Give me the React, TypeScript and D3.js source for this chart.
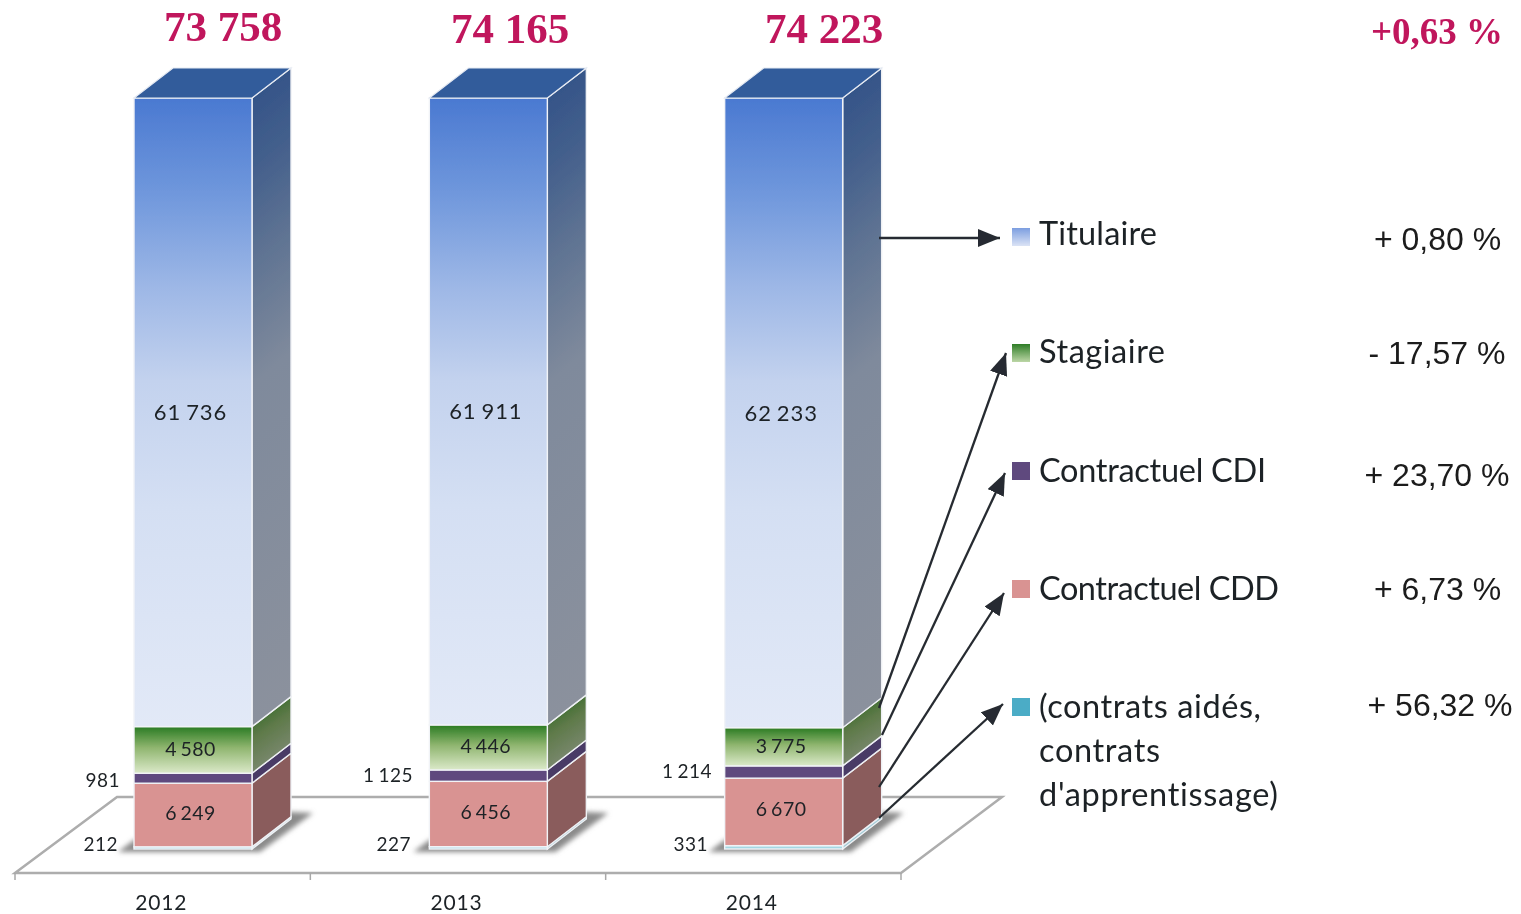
import React from "react";
import * as d3 from "d3";

const years = ["2012", "2013", "2014"];
const seriesKeys = ["aides", "cdd", "cdi", "stagiaire", "titulaire"];
const aides = [212, 227, 331];
const cdd = [6249, 6456, 6670];
const cdi = [981, 1125, 1214];
const stagiaire = [4580, 4446, 3775];
const titulaire = [61736, 61911, 62233];
const totals = ["73 758", "74 165", "74 223"];
const legendLabels = ["Titulaire", "Stagiaire", "Contractuel CDI", "Contractuel CDD"];
const legendLastLines = ["(contrats aidés,", "contrats", "d'apprentissage)"];
const changes = ["+ 0,80 %", "- 17,57 %", "+ 23,70 %", "+ 6,73 %", "+ 56,32 %"];
const totalChange = "+0,63 %";

const columns: Record<string, number[]> = { aides, cdd, cdi, stagiaire, titulaire };
const rows = years.map((y, i) => {
  const r: Record<string, number | string> = { year: y };
  seriesKeys.forEach((k) => (r[k] = columns[k][i]));
  return r;
});

const fmt = (v: number) => {
  const s = String(v);
  return s.length > 3 ? s.slice(0, -3) + " " + s.slice(-3) : s;
};

const W = 1521, H = 914;
const DX = 39, DY = -30;
const BW = 118;
const x = d3.scaleBand<string>().domain(years).range([15, 901]).paddingInner(0).paddingOuter(0);
const barX = (yr: string) => (x(yr) as number) + 119;
const y = d3.scaleLinear().domain([0, 1]).range([849, 98]);
const stack = d3.stack<any>().keys(seriesKeys).offset(d3.stackOffsetExpand);
const stacked = stack(rows as any);

const frontStops: Record<string, [number, string][]> = {
  titulaire: [[0, "#4a79d1"], [0.15, "#6f97dc"], [0.3, "#9db7e6"], [0.45, "#c3d2ee"], [0.65, "#d4dff3"], [1, "#e2e9f7"]],
  stagiaire: [[0, "#2a7b22"], [0.45, "#8fb56f"], [1, "#dbe9c9"]],
  cdi: [[0, "#5f4a7e"], [1, "#5f4a7e"]],
  cdd: [[0, "#d99392"], [1, "#d99392"]],
  aides: [[0, "#a5d8e3"], [1, "#a5d8e3"]],
};
const sideStops: Record<string, [number, string][]> = {
  titulaire: [[0, "#2f5087"], [0.15, "#435f8c"], [0.3, "#607493"], [0.48, "#7f8a9c"], [1, "#8b919d"]],
  stagiaire: [[0, "#1f6116"], [0.5, "#5f7a4a"], [1, "#7f8b76"]],
  cdi: [[0, "#4a3a66"], [1, "#4a3a66"]],
  cdd: [[0, "#8a5c5b"], [1, "#8a5c5b"]],
  aides: [[0, "#9fcbd6"], [1, "#9fcbd6"]],
};
const legendSwatch = ["url(#lg-tit)", "url(#lg-sta)", "#5f4a7e", "#d99392", "#4bacc6"];
const swatchY = [228, 344, 462, 580, 698];
const legendBase = [245, 363, 482, 600];
const legendWidths = [118, 126, 227, 240];
const lastLineWidths = [222, 121, 239];
const changeX = [1437.5, 1437, 1437, 1437.5, 1440];
const changeY = [250, 364, 486, 600, 716];
const totalX = [223, 510, 824];
const totalY = [41, 43, 43];
const outerCdiY = [787, 782, 778];
const outerLabelRight = [
  { cdi: 120, aides: 118 },
  { cdi: 413, aides: 411 },
  { cdi: 712, aides: 708 },
];
const arrows: [number, number, number, number][] = [
  [879, 238, 1000, 238],
  [879, 708, 1006, 353],
  [882, 735, 1005, 473],
  [879, 787, 1004, 593],
  [879, 818, 1003, 704],
];

const floorPts = "15,873 901,873 1002,797 117,797";
const LATO = "Lato, 'Open Sans', sans-serif";
const noLig = { fontVariantLigatures: "none" } as React.CSSProperties;

export default function App() {
  return (
    <svg
      width={W}
      height={H}
      viewBox={`0 0 ${W} ${H}`}
      style={{ position: "absolute", left: 0, top: 0, background: "#fff" }}
    >
      <defs>
        {seriesKeys.map((k) => (
          <React.Fragment key={k}>
            <linearGradient id={`front-${k}`} x1="0" y1="0" x2="0" y2="1">
              {frontStops[k].map(([o, c]) => <stop key={o} offset={o} stopColor={c} />)}
            </linearGradient>
            <linearGradient id={`side-${k}`} x1="0" y1="0" x2={k === "stagiaire" ? "0.35" : "0.05"} y2="1">
              {sideStops[k].map(([o, c]) => <stop key={o} offset={o} stopColor={c} />)}
            </linearGradient>
          </React.Fragment>
        ))}
        <linearGradient id="lg-tit" x1="0" y1="0" x2="0" y2="1">
          <stop offset="0" stopColor="#7c9ee0" />
          <stop offset="1" stopColor="#dbe3f5" />
        </linearGradient>
        <linearGradient id="lg-sta" x1="0" y1="0" x2="0" y2="1">
          <stop offset="0" stopColor="#2f7d27" />
          <stop offset="1" stopColor="#bcd6a6" />
        </linearGradient>
        <filter id="soft" x="-20%" y="-20%" width="140%" height="140%">
          <feGaussianBlur stdDeviation="2.5" />
        </filter>
        <filter id="tiny" x="-5%" y="-5%" width="110%" height="110%">
          <feGaussianBlur stdDeviation="0.45" />
        </filter>
        <marker id="arrow" markerUnits="userSpaceOnUse" markerWidth="24" markerHeight="20" refX="22" refY="9" orient="auto">
          <path d="M0,0 L22,9 L0,18 Z" fill="#262c30" />
        </marker>
      </defs>

      <g filter="url(#tiny)">
        <polygon points={floorPts} fill="#fff" stroke="#adadad" strokeWidth={2.5} />
        {x.domain().map((yr) => (
          <line key={yr} x1={x(yr)} x2={x(yr)} y1={873} y2={880} stroke="#a8a8a8" strokeWidth={1.5} />
        ))}
        <line x1={901} x2={901} y1={873} y2={880} stroke="#a8a8a8" strokeWidth={1.5} />

        {years.map((yr) => {
          const bx = barX(yr);
          return (
            <polygon
              key={yr}
              points={`${bx - 16},852 ${bx},840 ${bx + BW + DX},812 ${bx + BW + DX + 22},813 ${bx + BW + 8},852`}
              fill="#8a8a8a"
              filter="url(#soft)"
            />
          );
        })}

        {stacked.map((s) =>
          s.map((d, i) => {
            const yr = years[i];
            const bx = barX(yr);
            const y0 = y(d[0]);
            const y1 = y(d[1]);
            const k = s.key;
            return (
              <g key={`${k}-${yr}`}>
                <polygon
                  points={`${bx + BW},${y1} ${bx + BW + DX},${y1 + DY} ${bx + BW + DX},${y0 + DY} ${bx + BW},${y0}`}
                  fill={`url(#side-${k})`}
                  stroke="#eef0f4"
                  strokeWidth={1.4}
                />
                <rect
                  x={bx}
                  y={y1}
                  width={BW}
                  height={y0 - y1}
                  fill={`url(#front-${k})`}
                  stroke="#f1f3f7"
                  strokeWidth={1.4}
                />
              </g>
            );
          })
        )}
        {years.map((yr) => {
          const bx = barX(yr);
          const t = y(1);
          return (
            <polygon
              key={yr}
              points={`${bx},${t} ${bx + DX},${t + DY} ${bx + BW + DX},${t + DY} ${bx + BW},${t}`}
              fill="#335c9b"
              stroke="#e6ebf3"
              strokeWidth={1.2}
            />
          );
        })}

        {stacked
          .filter((s) => ["cdd", "stagiaire", "titulaire"].includes(s.key))
          .map((s) =>
            s.map((d, i) => {
              const big = s.key === "titulaire";
              return (
                <text
                  key={`${s.key}-${i}`}
                  x={barX(years[i]) + BW / 2 - 2.5}
                  y={(y(d[0]) + y(d[1])) / 2 + (s.key === "cdd" ? 4.5 : big ? 8 : 6)}
                  textAnchor="middle"
                  fontFamily={LATO}
                  fontSize={big ? 22 : 19.5}
                  letterSpacing={big ? 0.9 : 0.5}
                  wordSpacing={big ? -1.5 : -2}
                  fill="#1d2125"
                >
                  {fmt(columns[s.key][i])}
                </text>
              );
            })
          )}
        {years.map((yr, i) => (
          <React.Fragment key={yr}>
            <text x={outerLabelRight[i].cdi} y={outerCdiY[i]} textAnchor="end" fontFamily={LATO} fontSize={19} letterSpacing={0.5} wordSpacing={-1.5} fill="#1d2125">
              {fmt(cdi[i])}
            </text>
            <text x={outerLabelRight[i].aides} y={851} textAnchor="end" fontFamily={LATO} fontSize={19} letterSpacing={0.5} fill="#1d2125">
              {fmt(aides[i])}
            </text>
          </React.Fragment>
        ))}
        {years.map((yr) => (
          <text
            key={yr}
            x={(x(yr) as number) + x.bandwidth() / 2 - 1.5}
            y={909.5}
            textAnchor="middle"
            fontFamily={LATO}
            fontSize={21}
            letterSpacing={0.8}
            fill="#1d2125"
          >
            {yr}
          </text>
        ))}

        {totals.map((t, i) => (
          <text key={t} x={totalX[i]} y={totalY[i]} textAnchor="middle" fontFamily="'Liberation Serif', serif" fontWeight="bold" fontSize={43} fill="#c0145c">
            {t}
          </text>
        ))}
        <text x={1437} y={44} textAnchor="middle" fontFamily="'Liberation Serif', serif" fontWeight="bold" fontSize={37} fill="#c0145c">
          {totalChange}
        </text>

        {legendSwatch.map((c, i) => (
          <rect key={i} x={1012} y={swatchY[i]} width={18} height={18} fill={c} />
        ))}
        {legendLabels.map((l, i) => (
          <text key={l} x={1039} y={legendBase[i]} fontFamily={LATO} fontSize={32.5} fill="#1d2125" style={noLig} textLength={legendWidths[i]} lengthAdjust="spacing">
            {l}
          </text>
        ))}
        {legendLastLines.map((l, i) => (
          <text key={l} x={1039} y={718 + i * 44} fontFamily={LATO} fontSize={32.5} fill="#1d2125" style={noLig} textLength={lastLineWidths[i]} lengthAdjust="spacing">
            {l}
          </text>
        ))}

        {changes.map((c, i) => (
          <text key={c} x={changeX[i]} y={changeY[i]} textAnchor="middle" fontFamily="'Liberation Sans', Arial, sans-serif" fontSize={32} fill="#1a1a1a">
            {c}
          </text>
        ))}

        {arrows.map(([a, b, c, d], i) => (
          <line key={i} x1={a} y1={b} x2={c} y2={d} stroke="#262c30" strokeWidth={2.3} markerEnd="url(#arrow)" />
        ))}
      </g>
    </svg>
  );
}
